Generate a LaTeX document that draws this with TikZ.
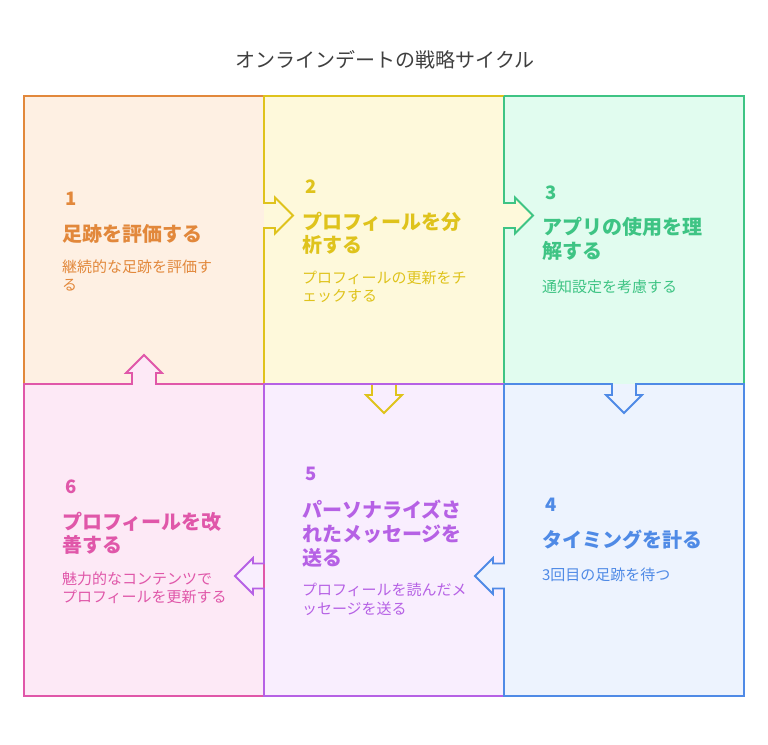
\documentclass[tikz,border=0pt]{standalone}
\usepackage{fontspec}
\newfontfamily\jp{Noto Sans CJK JP}
\definecolor{c0}{HTML}{3F3F3F}
\definecolor{c1}{HTML}{E2883B}\definecolor{c1f}{HTML}{FEF0E3}
\definecolor{c2}{HTML}{DFC31C}\definecolor{c2f}{HTML}{FEF9DB}
\definecolor{c3}{HTML}{3EC484}\definecolor{c3f}{HTML}{E1FCEF}
\definecolor{c4}{HTML}{4F8AE6}\definecolor{c4f}{HTML}{EDF3FE}
\definecolor{c5}{HTML}{B661E5}\definecolor{c5f}{HTML}{F9EEFE}
\definecolor{c6}{HTML}{E057A9}\definecolor{c6f}{HTML}{FDE9F6}
\tikzset{
 lbl/.style={anchor=west, inner sep=0pt, outer sep=0pt},
 numtxt/.style={lbl, font=\jp\bfseries\fontsize{18.5}{18.5}\selectfont},
 ttl/.style={lbl, font=\jp\bfseries\fontsize{20}{20}\selectfont},
 dsc/.style={lbl, font=\jp\fontsize{15}{15}\selectfont},
 edge/.style={line width=1.8pt, line join=miter},
}
\begin{document}
\begin{tikzpicture}[x=1pt,y=-1pt]
\useasboundingbox (0,0) rectangle (768,744);
% fills
\fill[c1f] (24,96) rectangle (264,384);
\fill[c2f] (264,96) rectangle (504,384);
\fill[c3f] (504,96) rectangle (744,384);
\fill[c6f] (24,384) rectangle (264,696);
\fill[c5f] (264,384) rectangle (504,696);
\fill[c4f] (504,384) rectangle (744,696);
% arrow interiors
\fill[c2f] (503,203) -- ++(12,0) -- ++(0,-5.5) -- ++(18,18) -- ++(-18,18) -- ++(0,-5.5) -- ++(-12,0) -- cycle;
\fill[c4f] (505,588.5) -- ++(-12,0) -- ++(0,5.5) -- ++(-18,-18) -- ++(18,-18) -- ++(0,5.5) -- ++(12,0) -- cycle;
\fill[c5f] (265,588.5) -- ++(-12,0) -- ++(0,5.5) -- ++(-18,-18) -- ++(18,-18) -- ++(0,5.5) -- ++(12,0) -- cycle;
\fill[c6f] (132,385) -- ++(0,-12) -- ++(-6,0) -- ++(18,-18) -- ++(18,18) -- ++(-6,0) -- ++(0,12) -- cycle;
% edges
\draw[edge,c1] (264,96) -- (24,96) -- (24,384);
\draw[edge,c2] (504,96) -- (264,96) -- (264,203) -- ++(11,0) -- ++(0,-5.5) -- ++(18,18) -- ++(-18,18) -- ++(0,-5.5) -- ++(-11,0) -- (264,384);
\draw[edge,c3] (504,96) -- (744,96) -- (744,384);
\draw[edge,c3] (504,96) -- (504,203) -- ++(11,0) -- ++(0,-5.5) -- ++(18,18) -- ++(-18,18) -- ++(0,-5.5) -- ++(-11,0) -- (504,384);
\draw[edge,c6] (264,696) -- (24,696) -- (24,384) -- (132,384) -- ++(0,-11) -- ++(-6,0) -- ++(18,-18) -- ++(18,18) -- ++(-6,0) -- ++(0,11) -- (264,384);
\draw[edge,c6] (264,560) -- (264,592);
\draw[edge,c2] (372,384) -- ++(0,11) -- ++(-6,0) -- ++(18,18) -- ++(18,-18) -- ++(-6,0) -- ++(0,-11);
\draw[edge,c5] (264,384) -- (504,384);
\draw[edge,c5] (504,696) -- (264,696) -- (264,588.5) -- ++(-11,0) -- ++(0,5.5) -- ++(-18,-18) -- ++(18,-18) -- ++(0,5.5) -- ++(11,0) -- (264,384);
\draw[edge,c4] (504,384) -- (612,384) -- ++(0,11) -- ++(-6,0) -- ++(18,18) -- ++(18,-18) -- ++(-6,0) -- ++(0,-11) -- (744,384) -- (744,696) -- (504,696) -- (504,588.5) -- ++(-11,0) -- ++(0,5.5) -- ++(-18,-18) -- ++(18,-18) -- ++(0,5.5) -- ++(11,0) -- (504,384);
% heading
\node[inner sep=0pt, font=\jp\fontsize{20}{20}\selectfont, text=c0] (heading) at (385,60) {オンラインデートの戦略サイクル};
% box 1
\node[numtxt,text=c1] (n1) at (65,198.3) {1};
\node[ttl,text=c1] (t1a) at (62,234) {足跡を評価する};
\node[dsc,text=c1] (d1a) at (62,266.7) {継続的な足跡を評価す};
\node[dsc,text=c1] (d1b) at (62,285) {る};
% box 2
\node[numtxt,text=c2] (n2) at (305,186.7) {2};
\node[ttl,text=c2] (t2a) at (302,221.7) {プロフィールを分};
\node[ttl,text=c2] (t2b) at (302,245) {析する};
\node[dsc,text=c2] (d2a) at (302,278.3) {プロフィールの更新をチ};
\node[dsc,text=c2] (d2b) at (302,296) {ェックする};
% box 3
\node[numtxt,text=c3] (n3) at (545,192.7) {3};
\node[ttl,text=c3] (t3a) at (542,227.3) {アプリの使用を理};
\node[ttl,text=c3] (t3b) at (542,251) {解する};
\node[dsc,text=c3] (d3a) at (542,287.3) {通知設定を考慮する};
% box 4
\node[numtxt,text=c4] (n4) at (545,505) {4};
\node[ttl,text=c4] (t4a) at (542,540) {タイミングを計る};
\node[dsc,text=c4] (d4a) at (542,575) {3回目の足跡を待つ};
% box 5
\node[numtxt,text=c5] (n5) at (305,474) {5};
\node[ttl,text=c5] (t5a) at (302,510) {パーソナライズさ};
\node[ttl,text=c5] (t5b) at (302,534) {れたメッセージを};
\node[ttl,text=c5] (t5c) at (302,557.7) {送る};
\node[dsc,text=c5] (d5a) at (302,590) {プロフィールを読んだメ};
\node[dsc,text=c5] (d5b) at (302,608.3) {ッセージを送る};
% box 6
\node[numtxt,text=c6] (n6) at (65,487) {6};
\node[ttl,text=c6] (t6a) at (62,522) {プロフィールを改};
\node[ttl,text=c6] (t6b) at (62,545) {善する};
\node[dsc,text=c6] (d6a) at (62,579) {魅力的なコンテンツで};
\node[dsc,text=c6] (d6b) at (62,597) {プロフィールを更新する};
\end{tikzpicture}
\end{document}
